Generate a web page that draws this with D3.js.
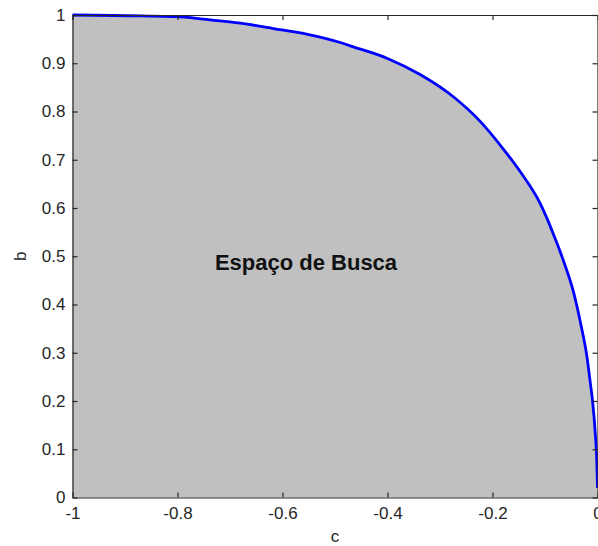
<!DOCTYPE html>
<html>
<head>
<meta charset="utf-8">
<script src="https://cdn.jsdelivr.net/npm/d3@7/dist/d3.min.js"></script>
<style>
  html, body { margin: 0; padding: 0; background: #fff; }
  svg { display: block; }
  .axis text { font-family: "Liberation Sans", Arial, sans-serif; font-size: 17px; fill: #262626; }
  .axis path, .axis line { stroke: #262626; stroke-width: 1.2; }
</style>
</head>
<body>
<svg id="chart" width="598" height="546"></svg>
<script>
// Boundary of the search region: c (x) against b (y)
const cValues = [-1.000, -0.870, -0.781, -0.756, -0.680, -0.617, -0.552, -0.490, -0.465,
                 -0.400, -0.337, -0.274, -0.223, -0.185, -0.147, -0.109, -0.096, -0.083,
                 -0.064, -0.045, -0.032, -0.020, -0.0135, -0.0095, -0.0042, -0.0014, 0.000];
const bValues = [1.000, 0.998, 0.995, 0.992, 0.983, 0.972, 0.960, 0.943, 0.934,
                 0.910, 0.876, 0.830, 0.779, 0.730, 0.675, 0.609, 0.578, 0.543,
                 0.488, 0.423, 0.360, 0.291, 0.236, 0.201, 0.132, 0.077, 0.020];

const xTicks = [-1, -0.8, -0.6, -0.4, -0.2, 0];
const xTickLabels = ["-1", "-0.8", "-0.6", "-0.4", "-0.2", "0"];
const yTicks = [0, 0.1, 0.2, 0.3, 0.4, 0.5, 0.6, 0.7, 0.8, 0.9, 1];
const yTickLabels = ["0", "0.1", "0.2", "0.3", "0.4", "0.5", "0.6", "0.7", "0.8", "0.9", "1"];

const xLabel = "c";
const yLabel = "b";
const regionLabel = "Espaço de Busca";

const svg = d3.select("#chart");
const plotLeft = 72.5, plotRight = 597.5, plotTop = 15, plotBottom = 497.5;

const x = d3.scaleLinear().domain([-1, 0]).range([plotLeft, plotRight]);
const y = d3.scaleLinear().domain([0, 1]).range([plotBottom, plotTop]);

const pts = cValues.map((c, i) => [c, bValues[i]]);

// Shaded region under the boundary
const area = d3.area()
  .curve(d3.curveMonotoneX)
  .x(d => x(d[0]))
  .y0(y(0))
  .y1(d => y(d[1]));
svg.append("path")
  .datum(pts)
  .attr("d", area)
  .attr("fill", "#c0c0c0");

// Boundary curve
svg.append("path")
  .datum(pts)
  .attr("d", d3.line().curve(d3.curveMonotoneX).x(d => x(d[0])).y(d => y(d[1])))
  .attr("fill", "none")
  .attr("stroke", "#0000ff")
  .attr("stroke-width", 2.8)
  .attr("stroke-linejoin", "round");

// Axes: ticks point inward on all four sides
const xFmt = (d) => xTickLabels[xTicks.indexOf(d)];
const yFmt = (d) => yTickLabels[yTicks.indexOf(d)];

svg.append("g").attr("class", "axis")
  .attr("transform", `translate(0,${plotBottom})`)
  .call(d3.axisBottom(x).tickValues(xTicks).tickFormat(xFmt).tickSize(-5).tickSizeOuter(0).tickPadding(9));

svg.append("g").attr("class", "axis")
  .attr("transform", `translate(0,${plotTop})`)
  .call(d3.axisTop(x).tickValues(xTicks).tickFormat("").tickSize(-5).tickSizeOuter(0));

svg.append("g").attr("class", "axis")
  .attr("transform", `translate(${plotLeft},0)`)
  .call(d3.axisLeft(y).tickValues(yTicks).tickFormat(yFmt).tickSize(-5).tickSizeOuter(0).tickPadding(7));

svg.append("g").attr("class", "axis")
  .attr("transform", `translate(${plotRight},0)`)
  .call(d3.axisRight(y).tickValues(yTicks).tickFormat("").tickSize(-5).tickSizeOuter(0));

// Axis titles
svg.append("text")
  .attr("x", (plotLeft + plotRight) / 2)
  .attr("y", 542)
  .attr("text-anchor", "middle")
  .attr("font-family", "Liberation Sans, Arial, sans-serif")
  .attr("font-size", 17)
  .attr("fill", "#262626")
  .text(xLabel);

svg.append("text")
  .attr("transform", `translate(26,${(plotTop + plotBottom) / 2}) rotate(-90)`)
  .attr("text-anchor", "middle")
  .attr("font-family", "Liberation Sans, Arial, sans-serif")
  .attr("font-size", 17)
  .attr("fill", "#262626")
  .text(yLabel);

// Region annotation
svg.append("text")
  .attr("x", 306)
  .attr("y", 269.5)
  .attr("text-anchor", "middle")
  .attr("font-family", "Liberation Sans, Arial, sans-serif")
  .attr("font-weight", "bold")
  .attr("font-size", 22)
  .attr("fill", "#111")
  .text(regionLabel);
</script>
</body>
</html>
